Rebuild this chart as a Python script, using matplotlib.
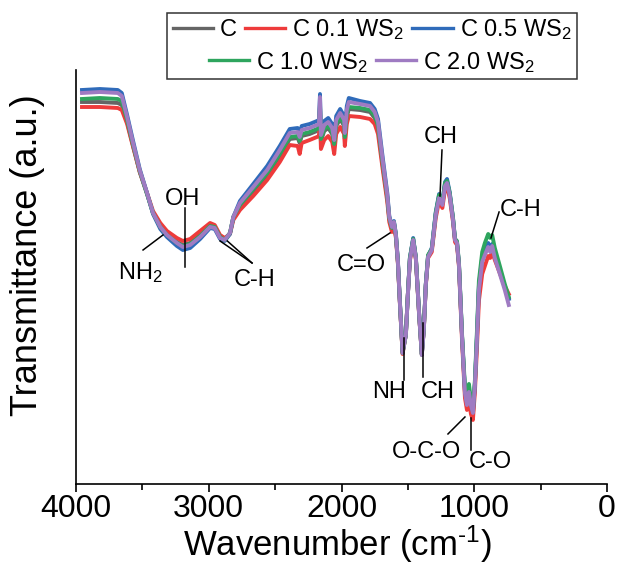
import matplotlib
matplotlib.use("Agg")
import matplotlib.pyplot as plt
from matplotlib.patches import Rectangle
from matplotlib.ticker import MultipleLocator

plt.rcParams['font.family'] = ['Liberation Sans', 'DejaVu Sans']
plt.rcParams['mathtext.fontset'] = 'custom'
plt.rcParams['mathtext.rm'] = 'Liberation Sans'
plt.rcParams['mathtext.it'] = 'Liberation Sans:italic'

# wavenumbers (cm-1), shared by all spectra
wavenumber = [3955, 3820, 3685, 3655,
              3615, 3570, 3520, 3465, 3420, 3365, 3315, 3240,
              3195, 3140, 3065, 2990, 2955, 2915, 2880, 2840, 2815,
              2765, 2665, 2560, 2465, 2390, 2330, 2315, 2300, 2240, 2185, 2170, 2162,
              2155, 2130, 2100, 2070, 2055, 2040, 2010, 1980, 1975, 1960, 1945,
              1860, 1785, 1750, 1725, 1690, 1655, 1640, 1620, 1605, 1590, 1575,
              1560, 1540, 1515, 1500, 1485, 1460, 1440, 1415, 1395, 1380, 1365, 1348,
              1320, 1290, 1265, 1240, 1220, 1205, 1185, 1160, 1145, 1130, 1115,
              1092, 1070, 1055, 1040, 1025, 1010, 995, 980, 965, 940, 920, 895,
              880, 865, 845, 805, 770, 740]

# transmittance (a.u.)
t_c = [382, 382, 381, 379,
       362, 338, 312, 290, 271, 258, 250, 242,
       239, 241, 249, 258, 257, 247, 244, 251, 266,
       278, 293, 309, 328, 345, 346, 341, 348, 350, 353, 354, 378,
       343, 353, 356, 350, 338, 358, 365, 358, 345, 367, 375,
       374, 372, 366, 356, 319, 286, 265, 256, 261, 248, 221,
       181, 131, 149, 190, 225, 245, 226, 169, 129, 154, 199, 228,
       234, 270, 287, 280, 299, 302, 290, 265, 244, 241, 219,
       148, 92, 80, 93, 78, 70, 99, 145, 195, 224, 231, 239,
       234, 239, 228, 211, 197, 186]

t_c01 = [377, 377, 376, 374,
         360, 337, 312, 291, 273, 261, 253, 246,
         243, 245, 253, 261, 259, 249, 246, 250, 264,
         274, 288, 304, 322, 339, 338, 330, 341, 344, 347, 348, 365,
         335, 344, 348, 342, 330, 350, 357, 350, 338, 360, 368,
         367, 365, 360, 350, 315, 282, 262, 252, 258, 246, 220,
         180, 130, 150, 190, 223, 243, 225, 168, 130, 154, 198, 226,
         232, 266, 283, 276, 295, 298, 286, 262, 242, 239, 217,
         143, 86, 74, 84, 70, 64, 92, 135, 183, 210, 218, 228,
         226, 232, 224, 210, 198, 190]

t_c05 = [394, 395, 394, 391,
         369, 343, 315, 291, 270, 255, 247, 238,
         234, 236, 245, 256, 255, 245, 243, 250, 267,
         283, 300, 318, 338, 355, 356, 351, 358, 360, 363, 364, 390,
         353, 363, 366, 360, 348, 368, 375, 368, 355, 378, 386,
         383, 381, 375, 365, 327, 291, 268, 258, 263, 250, 223,
         182, 132, 150, 190, 226, 246, 227, 170, 130, 155, 200, 228,
         236, 272, 290, 282, 302, 305, 292, 266, 245, 242, 220,
         148, 93, 82, 95, 80, 72, 101, 148, 198, 227, 233, 241,
         236, 240, 229, 212, 197, 185]

t_c10 = [385, 386, 385, 383,
         364, 339, 313, 290, 271, 257, 249, 241,
         238, 240, 248, 258, 257, 247, 244, 251, 267,
         279, 295, 311, 330, 347, 348, 343, 350, 352, 355, 356, 380,
         345, 355, 358, 352, 340, 360, 367, 360, 347, 370, 377,
         376, 374, 368, 358, 321, 287, 266, 256, 262, 249, 222,
         182, 131, 149, 190, 226, 245, 227, 170, 130, 155, 200, 229,
         235, 271, 289, 282, 301, 303, 291, 266, 245, 243, 221,
         150, 97, 90, 100, 84, 74, 104, 152, 203, 232, 241, 250,
         246, 249, 236, 217, 200, 187]

t_c20 = [391, 392, 391, 388,
         367, 341, 314, 291, 271, 257, 249, 241,
         237, 239, 247, 257, 256, 246, 244, 251, 267,
         281, 297, 314, 334, 351, 352, 347, 354, 356, 359, 360, 387,
         349, 359, 362, 356, 344, 364, 371, 364, 351, 374, 382,
         380, 378, 372, 362, 324, 289, 267, 257, 262, 249, 222,
         181, 131, 149, 189, 224, 244, 226, 169, 129, 154, 199, 227,
         234, 269, 286, 279, 298, 301, 289, 264, 244, 241, 219,
         147, 91, 79, 92, 79, 71, 99, 144, 194, 222, 229, 237,
         232, 238, 226, 209, 194, 179]

series = [
    ("C", t_c, "#656565"),
    (r"C 0.1 WS$_2$", t_c01, "#EE3B3B"),
    (r"C 0.5 WS$_2$", t_c05, "#2F6BBA"),
    (r"C 1.0 WS$_2$", t_c10, "#2EA55E"),
    (r"C 2.0 WS$_2$", t_c20, "#9F7BC2"),
]

# band labels: text, text position, line segments
bands = [
    (r"NH$_2$", (3518, 211), [((3495, 234), (3345, 249))]),
    ("OH", (3201, 285), [((3179, 276), (3179, 217))]),
    ("C-H", (2652, 204), [((2674, 221), (2915, 243)), ((2674, 221), (2860, 243))]),
    ("C=O", (1853, 219), [((1808, 236), (1635, 251))]),
    ("NH", (1642, 92), [((1529, 104), (1529, 146))]),
    ("CH", (1273, 92), [((1386, 107), (1386, 161))]),
    ("CH", (1250, 347), [((1243, 334), (1258, 288))]),
    ("C-H", (648, 274), [((813, 272), (874, 246))]),
    ("O-C-O", (1363, 32), [((1198, 50), (1070, 67))]),
    ("C-O", (881, 22), [((1024, 66), (1024, 34))]),
]

fig = plt.figure(figsize=(6.19, 5.65), dpi=100)
ax = fig.add_axes([0.1228, 0.1434, 0.8578, 0.7327])

handles = []
for label, vals, col in series:
    ln, = ax.plot(wavenumber, vals, color=col, lw=2.8, label=label)
    handles.append(ln)

for txt, pos, segs in bands:
    ax.text(pos[0], pos[1], txt, fontsize=17, ha="center", va="center")
    for p0, p1 in segs:
        ax.plot([p0[0], p1[0]], [p0[1], p1[1]], color="black", lw=1.1)

ax.set_xlim(4000, 0)
ax.set_ylim(0, 414)
ax.xaxis.set_major_locator(MultipleLocator(1000))
ax.xaxis.set_minor_locator(MultipleLocator(500))
ax.set_yticks([])
for s in ["top", "right"]:
    ax.spines[s].set_visible(False)
for s in ["left", "bottom"]:
    ax.spines[s].set_linewidth(1.2)
ax.tick_params(axis="x", which="major", direction="out", length=6, width=1.2, labelsize=23, pad=1)
ax.tick_params(axis="x", which="minor", direction="out", length=4, width=1.2)
ax.set_xlabel("Wavenumber (cm$^{\u2010\\mathrm{1}}$)", fontsize=25, va="baseline")
ax.set_ylabel("Transmittance (a.u.)", fontsize=26)
ax.xaxis.set_label_coords(0.493, -0.173)
ax.yaxis.set_label_coords(-0.058, 0.553)

# legend: 3 entries on the first row, 2 centred on the second
leg_kw = dict(frameon=False, fontsize=17, handlelength=1.7, handletextpad=0.3,
              columnspacing=0.35, borderpad=0, borderaxespad=0)
leg1 = fig.legend(handles=handles[:3], ncol=3, loc="center",
                  bbox_to_anchor=(0.601, 0.947), **leg_kw)
leg2 = fig.legend(handles=handles[3:], ncol=2, loc="center",
                  bbox_to_anchor=(0.601, 0.890), **leg_kw)
for lg in (leg1, leg2):
    for h in lg.legend_handles:
        h.set_linewidth(2.4)
fig.patches.append(Rectangle((0.270, 0.860), 0.662, 0.117, transform=fig.transFigure,
                             fill=False, edgecolor="#333333", lw=1.1))

fig.savefig("out.png", dpi=100)
